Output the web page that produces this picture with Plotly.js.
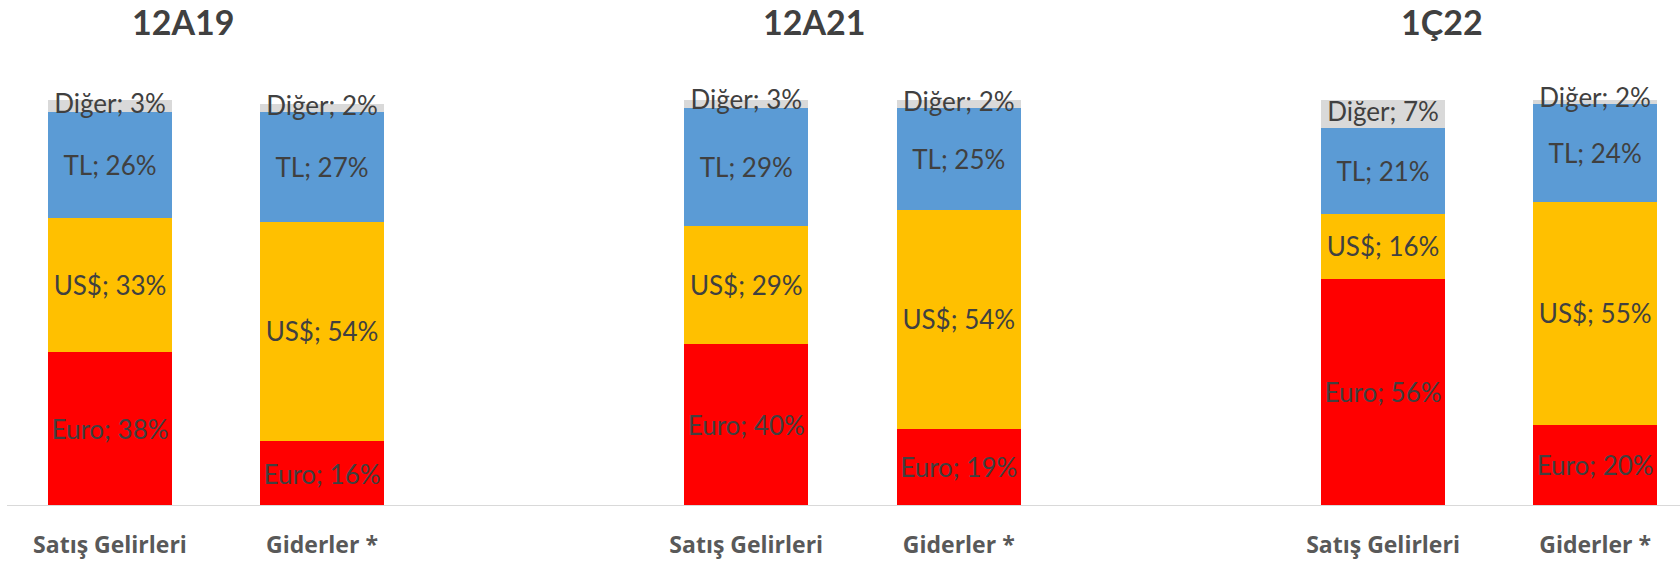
<!DOCTYPE html>
<html>
<head>
<meta charset="utf-8">
<script src="https://cdn.plot.ly/plotly-3.0.1.min.js"></script>
<style>html,body{margin:0;padding:0;background:#fff;}#chart{width:1680px;height:562px;}</style>
</head>
<body>
<div id="chart"></div>
<script>
// ---- data ----
var periods = ['12A19', '12A21', '1Ç22'];
var categories = ['Satış Gelirleri', 'Giderler *'];
var seriesNames = ['Euro', 'US$', 'TL', 'Diğer'];
var euro  = [[38, 16], [40, 19], [56, 20]];
var usd   = [[33, 54], [29, 54], [16, 55]];
var tl    = [[26, 27], [29, 25], [21, 24]];
var diger = [[3, 2],   [3, 2],   [7, 2]];

// ---- style ----
var colors = ['#ff0000', '#ffc000', '#5b9bd5', '#d9d9d9'];
var seriesData = [euro, usd, tl, diger];
var FONT = 'Lato, "Open Sans", sans-serif';
var TICK_FONT = '"Open Sans", Lato, sans-serif';
var LABEL_SIZE = 26;
var domains = [[4/1680, 428/1680], [640/1680, 1065/1680], [1277/1680, 1]];
var ranges = [[-0.5, 1.5], [-0.5, 1.5], [-0.5, 1.4]];
var titleX = [183/1680, 814/1680, 1442/1680];

function label(name, v) { return name + '; ' + v + '%'; }

var traces = [];
for (var g = 0; g < periods.length; g++) {
  var xa = g === 0 ? 'x' : 'x' + (g + 1);
  for (var s = 0; s < seriesNames.length; s++) {
    var vals = seriesData[s][g];
    var isTop = s === seriesNames.length - 1;
    traces.push({
      type: 'bar',
      x: categories,
      y: vals,
      xaxis: xa,
      yaxis: 'y',
      name: seriesNames[s],
      marker: {color: colors[s], line: {width: 0}},
      text: isTop ? null : vals.map(function (v) { return label(seriesNames[s], v); }),
      textposition: isTop ? 'none' : 'inside',
      insidetextanchor: 'middle',
      textangle: 0,
      textfont: {family: FONT, size: LABEL_SIZE, color: '#404040'},
      cliponaxis: false,
      hoverinfo: 'skip',
      showlegend: false
    });
  }
  // labels of the thin top segment, drawn at its middle at full size
  var midY = categories.map(function (c, k) {
    return euro[g][k] + usd[g][k] + tl[g][k] + diger[g][k] / 2;
  });
  traces.push({
    type: 'scatter', mode: 'text',
    x: categories, y: midY, xaxis: xa, yaxis: 'y',
    text: diger[g].map(function (v) { return label('Diğer', v); }),
    textposition: 'middle center',
    textfont: {family: FONT, size: LABEL_SIZE, color: '#404040'},
    cliponaxis: false, hoverinfo: 'skip', showlegend: false
  });
}

var layout = {
  width: 1680, height: 562,
  margin: {l: 0, r: 0, t: 100, b: 56},
  paper_bgcolor: '#fff', plot_bgcolor: 'rgba(0,0,0,0)',
  barmode: 'stack',
  bargap: 0.415,
  constraintext: 'none',
  showlegend: false,
  yaxis: {range: [0, 100], visible: false, fixedrange: true},
  annotations: [],
  shapes: [{
    type: 'line', xref: 'paper', yref: 'y', x0: 7/1680, x1: 1, y0: 0, y1: 0,
    line: {color: '#d9d9d9', width: 2}, layer: 'above'
  }]
};
for (var i = 0; i < periods.length; i++) {
  var key = i === 0 ? 'xaxis' : 'xaxis' + (i + 1);
  layout[key] = {
    domain: domains[i], range: ranges[i], anchor: 'y',
    type: 'category',
    showgrid: false, zeroline: false, showline: false,
    ticks: 'outside', ticklen: 18, tickcolor: 'rgba(0,0,0,0)',
    tickfont: {family: TICK_FONT, size: 23, color: '#595959', weight: 'bold'},
    fixedrange: true
  };
  layout.annotations.push({
    text: '<b>' + periods[i] + '</b>', xref: 'paper', yref: 'paper',
    x: titleX[i], y: 1 + (100 - 22) / 406, xanchor: 'center', yanchor: 'middle',
    showarrow: false, font: {family: FONT, size: 34, color: '#404040'}
  });
}

Plotly.newPlot('chart', traces, layout, {displayModeBar: false, staticPlot: true});
</script>
</body>
</html>
